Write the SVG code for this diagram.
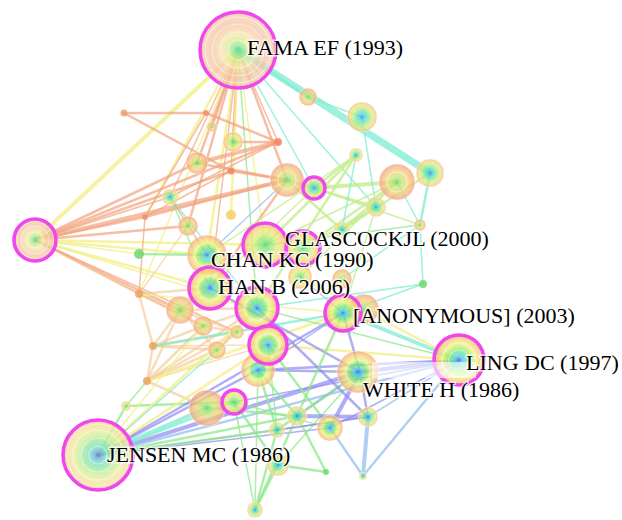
<svg xmlns="http://www.w3.org/2000/svg" width="622" height="520" viewBox="0 0 622 520">
<style>
.e line{stroke-linecap:round;fill:none}
.o{stroke:#f2a27e;stroke-opacity:.7}
.y{stroke:#f2f08a;stroke-opacity:.8}
.a{stroke:#f4c690;stroke-opacity:.6}
.g{stroke:#8ee88e;stroke-opacity:.75}
.l{stroke:#c4ee8c;stroke-opacity:.8}
.c{stroke:#7eecd0;stroke-opacity:.75}
.b{stroke:#8c8cf0;stroke-opacity:.7}
.s{stroke:#9cc4f0;stroke-opacity:.8}
.w1{stroke-width:1.5}.w2{stroke-width:2.5}.w3{stroke-width:4}.w4{stroke-width:7}
.n{fill-opacity:.74;stroke:#fff;stroke-opacity:.5;stroke-width:1}
.pk{fill:none;stroke:#f046ee;stroke-width:3.5}
.rg{fill:none;stroke:#fff;stroke-opacity:.45;stroke-width:1.2}
.dot{stroke:none;fill-opacity:.85}
.lb{font-family:"Liberation Serif","Times New Roman",serif;font-size:22px;fill:#000;paint-order:stroke;stroke:#fff;stroke-width:3;stroke-opacity:.7}
</style>
<defs>
<radialGradient id="gA"><stop offset="0" stop-color="#3f6fe0"/><stop offset=".12" stop-color="#4fb8f0"/><stop offset=".24" stop-color="#52e0c0"/><stop offset=".36" stop-color="#74e274"/><stop offset=".5" stop-color="#bcec6c"/><stop offset=".64" stop-color="#eef078"/><stop offset=".78" stop-color="#f6d478"/><stop offset=".9" stop-color="#f6b87a"/><stop offset="1" stop-color="#f3a37a"/></radialGradient>
<radialGradient id="gB"><stop offset="0" stop-color="#44d884"/><stop offset=".25" stop-color="#8ee478"/><stop offset=".5" stop-color="#d6ee78"/><stop offset=".7" stop-color="#f4e07c"/><stop offset=".88" stop-color="#f5c27e"/><stop offset="1" stop-color="#f2a47a"/></radialGradient>
<radialGradient id="gC"><stop offset="0" stop-color="#3e7ee4"/><stop offset=".2" stop-color="#48d0e0"/><stop offset=".42" stop-color="#7ae69a"/><stop offset=".62" stop-color="#c8ee80"/><stop offset=".82" stop-color="#f4dc82"/><stop offset="1" stop-color="#f3b27e"/></radialGradient>
<radialGradient id="gO"><stop offset="0" stop-color="#62d874"/><stop offset=".3" stop-color="#c6e674"/><stop offset=".6" stop-color="#f2d07a"/><stop offset=".85" stop-color="#f3b27c"/><stop offset="1" stop-color="#f09a78"/></radialGradient>
<radialGradient id="gF"><stop offset="0" stop-color="#54d694"/><stop offset=".12" stop-color="#8ee48c"/><stop offset=".26" stop-color="#d0ec90"/><stop offset=".4" stop-color="#f4e6a4"/><stop offset=".55" stop-color="#f6d2aa"/><stop offset=".7" stop-color="#f4c4a4"/><stop offset=".85" stop-color="#f6ccae"/><stop offset="1" stop-color="#f3b496"/></radialGradient>
<radialGradient id="gJ"><stop offset="0" stop-color="#5a6cc0"/><stop offset=".1" stop-color="#6aa4d8"/><stop offset=".22" stop-color="#70dcc8"/><stop offset=".38" stop-color="#92e69a"/><stop offset=".55" stop-color="#c8ee98"/><stop offset=".72" stop-color="#f0ea98"/><stop offset=".88" stop-color="#f6d49a"/><stop offset="1" stop-color="#f4c09a"/></radialGradient>
</defs>
<rect width="622" height="520" fill="#fff"/>
<g id="connectors" class="e">
<line class="y w3" x1="238" y1="50" x2="35" y2="240"/>
<line class="y w2" x1="238" y1="50" x2="145" y2="217"/>
<line class="o w2" x1="238" y1="50" x2="212" y2="127"/>
<line class="o w2" x1="238" y1="50" x2="233" y2="142"/>
<line class="o w1" x1="238" y1="50" x2="231" y2="171"/>
<line class="o w2" x1="238" y1="50" x2="197" y2="163"/>
<line class="o w1" x1="238" y1="50" x2="170" y2="197"/>
<line class="o w2" x1="238" y1="50" x2="188" y2="226"/>
<line class="y w2" x1="238" y1="50" x2="207" y2="255"/>
<line class="o w1" x1="238" y1="50" x2="210" y2="288"/>
<line class="y w2" x1="238" y1="50" x2="231" y2="215"/>
<line class="y w1" x1="238" y1="50" x2="265" y2="245"/>
<line class="o w2" x1="238" y1="50" x2="287" y2="180"/>
<line class="o w1" x1="238" y1="50" x2="278" y2="142"/>
<line class="c w4" x1="238" y1="50" x2="430" y2="173"/>
<line class="c w2" x1="238" y1="50" x2="308" y2="97"/>
<line class="c w1" x1="238" y1="50" x2="376" y2="207"/>
<line class="c w1" x1="238" y1="50" x2="314" y2="188"/>
<line class="g w1" x1="238" y1="50" x2="257" y2="308"/>
<line class="y w1" x1="238" y1="50" x2="139" y2="294"/>
<line class="o w2" x1="35" y1="240" x2="278" y2="142"/>
<line class="o w2" x1="35" y1="240" x2="231" y2="171"/>
<line class="o w3" x1="35" y1="240" x2="287" y2="180"/>
<line class="o w2" x1="35" y1="240" x2="197" y2="163"/>
<line class="o w2" x1="35" y1="240" x2="145" y2="217"/>
<line class="o w1" x1="35" y1="240" x2="170" y2="197"/>
<line class="y w2" x1="35" y1="240" x2="207" y2="255"/>
<line class="y w2" x1="35" y1="240" x2="210" y2="288"/>
<line class="y w1" x1="35" y1="240" x2="257" y2="308"/>
<line class="o w2" x1="35" y1="240" x2="188" y2="226"/>
<line class="y w2" x1="35" y1="240" x2="265" y2="245"/>
<line class="o w2" x1="35" y1="240" x2="180" y2="310"/>
<line class="o w1" x1="35" y1="240" x2="203" y2="326"/>
<line class="a w2" x1="35" y1="240" x2="139" y2="294"/>
<line class="y w1" x1="35" y1="240" x2="139" y2="254"/>
<line class="o w1" x1="35" y1="240" x2="237" y2="332"/>
<line class="o w2" x1="124" y1="113" x2="206" y2="113"/>
<line class="o w2" x1="124" y1="113" x2="231" y2="171"/>
<line class="o w1" x1="206" y1="113" x2="145" y2="217"/>
<line class="o w2" x1="206" y1="113" x2="278" y2="142"/>
<line class="o w2" x1="233" y1="142" x2="278" y2="142"/>
<line class="o w3" x1="197" y1="163" x2="278" y2="142"/>
<line class="o w2" x1="231" y1="171" x2="287" y2="180"/>
<line class="o w2" x1="197" y1="163" x2="287" y2="180"/>
<line class="o w1" x1="170" y1="197" x2="278" y2="142"/>
<line class="o w2" x1="145" y1="217" x2="287" y2="180"/>
<line class="o w1" x1="145" y1="217" x2="231" y2="171"/>
<line class="o w1" x1="170" y1="197" x2="207" y2="255"/>
<line class="g w1" x1="170" y1="197" x2="210" y2="288"/>
<line class="g w2" x1="139" y1="254" x2="207" y2="255"/>
<line class="c w1" x1="170" y1="197" x2="257" y2="308"/>
<line class="s w1" x1="207" y1="255" x2="287" y2="180"/>
<line class="o w2" x1="287" y1="180" x2="210" y2="288"/>
<line class="o w1" x1="145" y1="217" x2="139" y2="294"/>
<line class="a w1" x1="188" y1="226" x2="139" y2="294"/>
<line class="l w3" x1="314" y1="188" x2="397" y2="182"/>
<line class="l w2" x1="314" y1="188" x2="356" y2="155"/>
<line class="l w2" x1="287" y1="180" x2="376" y2="207"/>
<line class="l w2" x1="265" y1="245" x2="356" y2="155"/>
<line class="l w2" x1="303" y1="248" x2="397" y2="182"/>
<line class="l w2" x1="342" y1="230" x2="397" y2="182"/>
<line class="l w1" x1="342" y1="230" x2="376" y2="207"/>
<line class="l w2" x1="303" y1="248" x2="376" y2="207"/>
<line class="l w1" x1="207" y1="255" x2="356" y2="155"/>
<line class="l w1" x1="314" y1="188" x2="420" y2="225"/>
<line class="l w2" x1="287" y1="180" x2="342" y2="230"/>
<line class="l w1" x1="265" y1="245" x2="397" y2="182"/>
<line class="l w1" x1="300" y1="277" x2="397" y2="182"/>
<line class="l w1" x1="343" y1="313" x2="376" y2="207"/>
<line class="l w2" x1="257" y1="308" x2="356" y2="155"/>
<line class="l w1" x1="210" y1="288" x2="314" y2="188"/>
<line class="l w2" x1="342" y1="230" x2="430" y2="173"/>
<line class="g w1" x1="265" y1="245" x2="420" y2="225"/>
<line class="c w1" x1="362" y1="117" x2="376" y2="207"/>
<line class="c w2" x1="430" y1="173" x2="420" y2="225"/>
<line class="c w1" x1="397" y1="182" x2="420" y2="225"/>
<line class="c w1" x1="420" y1="225" x2="423" y2="284"/>
<line class="c w1" x1="423" y1="284" x2="343" y2="313"/>
<line class="c w1" x1="420" y1="225" x2="342" y2="279"/>
<line class="c w1" x1="308" y1="97" x2="362" y2="117"/>
<line class="c w1" x1="356" y1="155" x2="342" y2="230"/>
<line class="s w1" x1="343" y1="313" x2="300" y2="277"/>
<line class="c w1" x1="257" y1="308" x2="423" y2="284"/>
<line class="a w2" x1="139" y1="294" x2="180" y2="310"/>
<line class="a w2" x1="139" y1="294" x2="203" y2="326"/>
<line class="a w2" x1="139" y1="294" x2="153" y2="346"/>
<line class="a w2" x1="153" y1="346" x2="147" y2="381"/>
<line class="a w2" x1="147" y1="381" x2="203" y2="326"/>
<line class="a w2" x1="147" y1="381" x2="237" y2="332"/>
<line class="a w2" x1="147" y1="381" x2="217" y2="350"/>
<line class="a w2" x1="147" y1="381" x2="180" y2="310"/>
<line class="a w2" x1="153" y1="346" x2="180" y2="310"/>
<line class="a w2" x1="153" y1="346" x2="203" y2="326"/>
<line class="a w2" x1="153" y1="346" x2="217" y2="350"/>
<line class="a w2" x1="147" y1="381" x2="207" y2="408"/>
<line class="a w2" x1="139" y1="294" x2="210" y2="288"/>
<line class="a w2" x1="180" y1="310" x2="237" y2="332"/>
<line class="a w2" x1="203" y1="326" x2="237" y2="332"/>
<line class="a w2" x1="217" y1="350" x2="257" y2="308"/>
<line class="a w2" x1="180" y1="310" x2="210" y2="288"/>
<line class="a w2" x1="153" y1="346" x2="237" y2="332"/>
<line class="a w2" x1="147" y1="381" x2="257" y2="308"/>
<line class="a w2" x1="217" y1="350" x2="237" y2="332"/>
<line class="a w2" x1="180" y1="310" x2="217" y2="350"/>
<line class="a w2" x1="203" y1="326" x2="257" y2="308"/>
<line class="a w2" x1="180" y1="310" x2="257" y2="308"/>
<line class="a w1" x1="147" y1="381" x2="268" y2="345"/>
<line class="a w1" x1="153" y1="346" x2="268" y2="345"/>
<line class="y w2" x1="147" y1="381" x2="343" y2="313"/>
<line class="c w2" x1="153" y1="346" x2="343" y2="313"/>
<line class="y w1" x1="139" y1="294" x2="343" y2="313"/>
<line class="g w1" x1="126" y1="406" x2="147" y2="381"/>
<line class="g w2" x1="126" y1="406" x2="234" y2="402"/>
<line class="b w2" x1="98" y1="455" x2="258" y2="370"/>
<line class="b w2" x1="98" y1="455" x2="343" y2="313"/>
<line class="b w3" x1="98" y1="455" x2="360" y2="372"/>
<line class="s w2" x1="98" y1="455" x2="459" y2="360"/>
<line class="g w2" x1="98" y1="455" x2="297" y2="416"/>
<line class="c w3" x1="98" y1="455" x2="207" y2="408"/>
<line class="c w2" x1="98" y1="455" x2="234" y2="402"/>
<line class="b w1" x1="98" y1="455" x2="330" y2="428"/>
<line class="b w1" x1="98" y1="455" x2="368" y2="417"/>
<line class="y w2" x1="98" y1="455" x2="268" y2="345"/>
<line class="g w2" x1="98" y1="455" x2="126" y2="406"/>
<line class="y w2" x1="98" y1="455" x2="257" y2="308"/>
<line class="c w1" x1="98" y1="455" x2="217" y2="350"/>
<line class="g w2" x1="98" y1="455" x2="277" y2="430"/>
<line class="y w1" x1="98" y1="455" x2="203" y2="326"/>
<line class="c w3" x1="459" y1="360" x2="343" y2="313"/>
<line class="y w2" x1="459" y1="360" x2="300" y2="277"/>
<line class="b w3" x1="459" y1="360" x2="360" y2="372"/>
<line class="b w2" x1="459" y1="360" x2="258" y2="370"/>
<line class="y w2" x1="459" y1="360" x2="268" y2="345"/>
<line class="s w2" x1="459" y1="360" x2="363" y2="476"/>
<line class="s w1" x1="459" y1="360" x2="368" y2="417"/>
<line class="b w1" x1="459" y1="360" x2="330" y2="428"/>
<line class="b w1" x1="459" y1="360" x2="234" y2="402"/>
<line class="g w1" x1="459" y1="360" x2="257" y2="308"/>
<line class="b w2" x1="360" y1="372" x2="297" y2="416"/>
<line class="g w2" x1="360" y1="372" x2="277" y2="430"/>
<line class="b w3" x1="360" y1="372" x2="330" y2="428"/>
<line class="b w2" x1="360" y1="372" x2="368" y2="417"/>
<line class="b w2" x1="360" y1="372" x2="258" y2="370"/>
<line class="g w1" x1="360" y1="372" x2="278" y2="465"/>
<line class="b w2" x1="360" y1="372" x2="343" y2="313"/>
<line class="b w2" x1="210" y1="288" x2="360" y2="372"/>
<line class="b w2" x1="257" y1="308" x2="368" y2="417"/>
<line class="b w1" x1="343" y1="313" x2="258" y2="370"/>
<line class="g w2" x1="268" y1="345" x2="330" y2="428"/>
<line class="g w2" x1="343" y1="313" x2="297" y2="416"/>
<line class="g w2" x1="297" y1="416" x2="255" y2="510"/>
<line class="g w2" x1="277" y1="430" x2="255" y2="510"/>
<line class="g w2" x1="278" y1="465" x2="255" y2="510"/>
<line class="g w2" x1="297" y1="416" x2="326" y2="472"/>
<line class="g w2" x1="278" y1="465" x2="326" y2="472"/>
<line class="g w2" x1="234" y1="402" x2="278" y2="465"/>
<line class="g w2" x1="258" y1="370" x2="277" y2="430"/>
<line class="g w2" x1="258" y1="370" x2="297" y2="416"/>
<line class="g w2" x1="207" y1="408" x2="297" y2="416"/>
<line class="g w1" x1="234" y1="402" x2="330" y2="428"/>
<line class="g w1" x1="234" y1="402" x2="255" y2="510"/>
<line class="g w1" x1="258" y1="370" x2="255" y2="510"/>
<line class="s w3" x1="368" y1="417" x2="363" y2="476"/>
<line class="s w2" x1="330" y1="428" x2="363" y2="476"/>
<line class="b w3" x1="297" y1="416" x2="368" y2="417"/>
<line class="b w1" x1="277" y1="430" x2="368" y2="417"/>
<line class="g w1" x1="268" y1="345" x2="277" y2="430"/>
</g>
<g id="node-left"><circle class="n" cx="35" cy="240" r="22" fill="url(#gF)"/><circle class="rg" cx="35" cy="240" r="8"/><circle class="rg" cx="35" cy="240" r="14"/><circle class="pk" cx="35" cy="240" r="21"/></g>
<g id="node-m1"><circle class="n" cx="197" cy="163" r="11" fill="url(#gO)"/></g>
<g id="node-m2"><circle class="n" cx="233" cy="142" r="10" fill="url(#gB)"/></g>
<g id="node-m3"><circle class="n" cx="212" cy="127" r="5" fill="url(#gO)"/></g>
<g id="node-m4"><circle class="n" cx="170" cy="197" r="8" fill="url(#gC)"/></g>
<g id="node-m5"><circle class="n" cx="188" cy="226" r="10" fill="url(#gO)"/></g>
<g id="node-m6"><circle class="dot" cx="231" cy="215" r="5" fill="#f4d060"/></g>
<g id="node-d1"><circle class="dot" cx="124" cy="113" r="3.5" fill="#f0a070"/></g>
<g id="node-d2"><circle class="dot" cx="206" cy="113" r="3" fill="#f09070"/></g>
<g id="node-d3"><circle class="dot" cx="278" cy="142" r="4" fill="#f08860"/></g>
<g id="node-d4"><circle class="dot" cx="231" cy="171" r="3.5" fill="#f08860"/></g>
<g id="node-d5"><circle class="dot" cx="145" cy="217" r="3" fill="#f09070"/></g>
<g id="node-d6"><circle class="dot" cx="139" cy="254" r="5" fill="#70d870"/></g>
<g id="node-d7"><circle class="dot" cx="139" cy="294" r="4" fill="#f0a060"/></g>
<g id="node-d8"><circle class="dot" cx="153" cy="346" r="4" fill="#f0a060"/></g>
<g id="node-d9"><circle class="dot" cx="147" cy="381" r="4" fill="#f0a060"/></g>
<g id="node-d10"><circle class="n" cx="126" cy="406" r="5" fill="url(#gB)"/></g>
<g id="node-d11"><circle class="dot" cx="326" cy="472" r="3" fill="#70d870"/></g>
<g id="node-d12"><circle class="n" cx="363" cy="476" r="4" fill="url(#gC)"/></g>
<g id="node-c2"><circle class="n" cx="308" cy="97" r="9" fill="url(#gO)"/></g>
<g id="node-c1"><circle class="n" cx="362" cy="117" r="15" fill="url(#gC)"/></g>
<g id="node-c3"><circle class="n" cx="356" cy="155" r="7" fill="url(#gC)"/></g>
<g id="node-o2"><circle class="n" cx="397" cy="182" r="18" fill="url(#gO)"/><circle class="rg" cx="397" cy="182" r="10"/></g>
<g id="node-c4"><circle class="n" cx="430" cy="173" r="14" fill="url(#gC)"/></g>
<g id="node-c5"><circle class="n" cx="376" cy="207" r="10" fill="url(#gC)"/></g>
<g id="node-c6"><circle class="n" cx="420" cy="225" r="6" fill="url(#gO)"/></g>
<g id="node-c7"><circle class="dot" cx="423" cy="284" r="4" fill="#70d870"/></g>
<g id="node-c8"><circle class="n" cx="342" cy="230" r="8" fill="url(#gC)"/></g>
<g id="node-o1"><circle class="n" cx="287" cy="180" r="17" fill="url(#gO)"/><circle class="rg" cx="287" cy="180" r="9"/></g>
<g id="node-p4"><circle class="n" cx="314" cy="188" r="11" fill="url(#gC)"/><circle class="pk" cx="314" cy="188" r="11"/></g>
<g id="node-o3"><circle class="n" cx="180" cy="310" r="14" fill="url(#gO)"/></g>
<g id="node-o4"><circle class="n" cx="203" cy="326" r="10" fill="url(#gO)"/></g>
<g id="node-o5"><circle class="n" cx="237" cy="332" r="7" fill="url(#gO)"/></g>
<g id="node-o6"><circle class="n" cx="217" cy="350" r="9" fill="url(#gO)"/></g>
<g id="node-x1"><circle class="n" cx="300" cy="277" r="12" fill="url(#gB)"/></g>
<g id="node-x2"><circle class="n" cx="342" cy="279" r="10" fill="url(#gO)"/></g>
<g id="node-chan"><circle class="n" cx="207" cy="255" r="20" fill="url(#gA)"/><circle class="rg" cx="207" cy="255" r="12"/></g>
<g id="node-glas"><circle class="n" cx="265" cy="245" r="22" fill="url(#gB)"/><circle class="pk" cx="265" cy="245" r="22"/></g>
<g id="node-glas2"><circle class="n" cx="303" cy="248" r="17" fill="url(#gB)"/><circle class="pk" cx="303" cy="248" r="17"/></g>
<g id="node-han"><circle class="n" cx="210" cy="288" r="21" fill="url(#gA)"/><circle class="rg" cx="210" cy="288" r="12"/><circle class="pk" cx="210" cy="288" r="21"/></g>
<g id="node-p1"><circle class="n" cx="257" cy="308" r="21" fill="url(#gA)"/><circle class="rg" cx="257" cy="308" r="12"/><circle class="pk" cx="257" cy="308" r="21"/></g>
<g id="node-a2"><circle class="n" cx="364" cy="309" r="15" fill="url(#gO)"/></g>
<g id="node-anon"><circle class="n" cx="343" cy="313" r="18" fill="url(#gA)"/><circle class="pk" cx="343" cy="313" r="18"/></g>
<g id="node-b1"><circle class="n" cx="258" cy="370" r="17" fill="url(#gA)"/><circle class="rg" cx="258" cy="370" r="9"/></g>
<g id="node-p2"><circle class="n" cx="268" cy="345" r="19" fill="url(#gA)"/><circle class="rg" cx="268" cy="345" r="11"/><circle class="pk" cx="268" cy="345" r="19"/></g>
<g id="node-q1"><circle class="n" cx="207" cy="408" r="18" fill="url(#gO)" fill-opacity=".55"/></g>
<g id="node-p3"><circle class="n" cx="234" cy="402" r="13" fill="url(#gB)"/><circle class="pk" cx="234" cy="402" r="12"/></g>
<g id="node-white"><circle class="n" cx="358" cy="372" r="21" fill="url(#gA)"/><circle class="rg" cx="358" cy="372" r="12"/></g>
<g id="node-ling"><circle class="n" cx="459" cy="360" r="26" fill="url(#gA)"/><circle class="rg" cx="459" cy="360" r="10"/><circle class="rg" cx="459" cy="360" r="17"/><circle class="pk" cx="459" cy="360" r="25"/></g>
<g id="node-l1"><circle class="n" cx="297" cy="416" r="10" fill="url(#gC)"/></g>
<g id="node-l2"><circle class="n" cx="277" cy="430" r="8" fill="url(#gC)"/></g>
<g id="node-l3"><circle class="n" cx="330" cy="428" r="13" fill="url(#gA)"/></g>
<g id="node-l4"><circle class="n" cx="368" cy="417" r="10" fill="url(#gC)"/></g>
<g id="node-l5"><circle class="n" cx="278" cy="465" r="11" fill="url(#gC)"/></g>
<g id="node-l6"><circle class="n" cx="255" cy="510" r="8" fill="url(#gC)"/></g>
<g id="node-fama"><circle class="n" cx="238" cy="50" r="39" fill="url(#gF)"/><circle class="rg" cx="238" cy="50" r="10"/><circle class="rg" cx="238" cy="50" r="18"/><circle class="rg" cx="238" cy="50" r="26"/><circle class="rg" cx="238" cy="50" r="33"/><circle class="pk" cx="238" cy="50" r="38"/></g>
<g id="node-jensen"><circle class="n" cx="98" cy="455" r="36" fill="url(#gJ)"/><circle class="rg" cx="98" cy="455" r="9"/><circle class="rg" cx="98" cy="455" r="17"/><circle class="rg" cx="98" cy="455" r="25"/><circle class="rg" cx="98" cy="455" r="31"/><circle class="pk" cx="98" cy="455" r="35"/></g>
<rect x="372" y="362" width="104" height="16" fill="#fff" fill-opacity=".6"/>
<g id="labels">
<text class="lb" x="247" y="55">FAMA EF (1993)</text>
<text class="lb" x="285" y="246">GLASCOCKJL (2000)</text>
<text class="lb" x="211" y="267">CHAN KC (1990)</text>
<text class="lb" x="218" y="294">HAN B (2006)</text>
<text class="lb" x="353" y="323">[ANONYMOUS] (2003)</text>
<text class="lb" x="466" y="370">LING DC (1997)</text>
<text class="lb" x="363" y="397">WHITE H (1986)</text>
<text class="lb" x="107" y="462">JENSEN MC (1986)</text>
</g>
</svg>
